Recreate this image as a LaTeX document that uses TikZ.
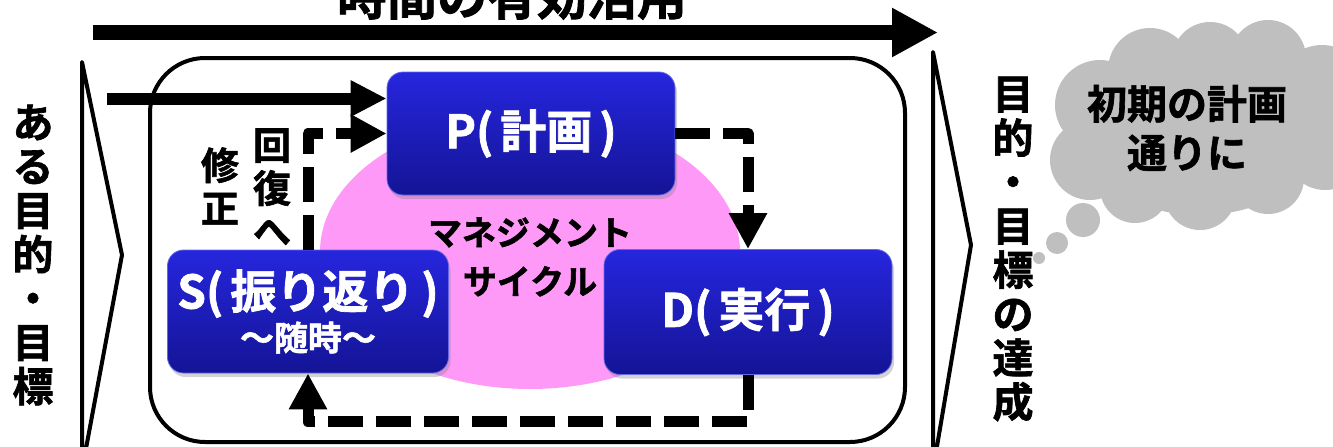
\documentclass[tikz,border=0pt]{standalone}
\usepackage{fontspec}
\newfontfamily\jpb{Noto Sans CJK JP Bold}[FakeBold=1.6]
\usetikzlibrary{arrows.meta,shadows}
\definecolor{boxtop}{RGB}{38,38,222}
\definecolor{boxbot}{RGB}{20,20,150}
\definecolor{pinkc}{RGB}{255,153,248}
\definecolor{cloudc}{RGB}{191,191,191}
\tikzset{
  cyclebox/.style={rounded corners=16pt, top color=boxtop, bottom color=boxbot,
    draw=boxtop!70!white, line width=0.8pt, text=white, align=center,
    font=\jpb\fontsize{46}{50}\selectfont,
    drop shadow={shadow xshift=2pt,shadow yshift=-4pt,opacity=0.35}},
  vtext/.style={align=center, inner sep=0pt, text=black},
  dasharrow/.style={line width=11pt, dash pattern=on 35pt off 13pt, line join=round,
    -{Triangle[length=36pt,width=36pt]}},
  solidarrow/.style={line width=12pt, -{Triangle[length=36pt,width=34pt]}},
  outline/.style={line width=4pt, line join=round},
}
\newcommand{\pgap}{\hspace{7pt}}
\begin{document}
\begin{tikzpicture}[x=1pt,y=-1pt]
\useasboundingbox (0,0) rectangle (1333,447);
% title and time arrow
\node[anchor=base, font=\jpb\fontsize{50}{50}\selectfont, inner sep=0pt] (title) at (512,15) {時間の有効活用};
\coordinate (t0) at (93,32.5);
\coordinate (t1) at (938,32.5);
\draw[line width=15pt, -{Triangle[length=46pt,width=46pt]}] (t0) -- (t1);
% side chevrons
\draw[outline] (82,62) -- (122,255) -- (82,470) -- cycle;
\draw[outline] (933,52) -- (971,245) -- (933,470) -- cycle;
\node[vtext, font=\jpb\fontsize{41}{44}\selectfont] (lefttxt) at (33,255) {あ\\る\\目\\的\\・\\目\\標};
\node[vtext, font=\jpb\fontsize{41}{44}\selectfont] (righttxt) at (1013,249) {目\\的\\・\\目\\標\\の\\達\\成};
% frame
\draw[outline, rounded corners=55pt] (150,58) rectangle (905,442);
% pink ellipse
\fill[pinkc] (530,252) ellipse [x radius=210, y radius=137];
\node[vtext, font=\jpb\fontsize{34}{49}\selectfont] (mc) at (530,257) {マネジメント\\サイクル};
% boxes
\node[cyclebox, minimum width=288pt, minimum height=123pt] (P) at (531,133.5) {P(\pgap 計画\pgap)};
\node[cyclebox, minimum width=281pt, minimum height=123pt] (S) at (308,311.5) {S(\pgap 振り返り\pgap)\\[-8pt]{\fontsize{34}{36}\selectfont ～随時～}};
\node[cyclebox, minimum width=288pt, minimum height=125pt] (D) at (748,312) {D(\pgap 実行\pgap)};
% labels
\node[vtext, font=\jpb\fontsize{38}{43}\selectfont] (shusei) at (220,186) {修\\正};
\node[vtext, font=\jpb\fontsize{38}{43}\selectfont] (kaifuku) at (272,187) {回\\復\\へ};
% connectors
\coordinate (in0) at (107,98.5);
\draw[solidarrow] (in0) -- (in0 -| P.west);
\draw[dasharrow] (S.north) |- (P.west);
\draw[dasharrow] (P.east) -| (D.north);
\draw[dasharrow] (D.south) -- ++(0,47) -| (S.south);
% cloud
\begin{scope}[cloudc]
\fill (1200,135) ellipse [x radius=120, y radius=80];
\fill (1100,105) circle (45);
\fill (1150,70) circle (42);
\fill (1210,60) circle (38);
\fill (1268,58) circle (38);
\fill (1322,90) circle (45);
\fill (1090,160) circle (40);
\fill (1135,188) circle (35);
\fill (1200,194) circle (36);
\fill (1268,178) circle (36);
\fill (1325,150) circle (40);
\fill (1083,220) circle (17);
\fill (1057,243) circle (11);
\fill (1039,258) circle (6);
\end{scope}
\node[vtext, font=\jpb\fontsize{40}{49}\selectfont] (cloudtxt) at (1187,128) {初期の計画\\通りに};
\end{tikzpicture}
\end{document}
